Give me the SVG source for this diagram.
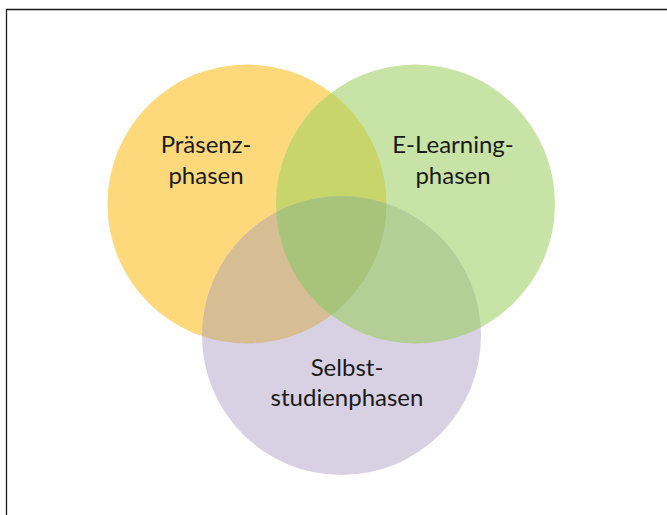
<svg xmlns="http://www.w3.org/2000/svg" width="667" height="515" viewBox="0 0 667 515">
<style>
.lbl{font-family:Lato,"Liberation Sans",sans-serif;font-size:24px;fill:#1a1a1a;text-anchor:middle}
.frame{stroke:#1a1a1a;stroke-width:1.3;fill:none}
</style>
<defs>
<circle id="cY" cx="247" cy="204" r="139.5"/>
<circle id="cG" cx="415.5" cy="204" r="139.5"/>
<circle id="cP" cx="341.5" cy="335.5" r="139.5"/>
<clipPath id="clipY"><use href="#cY"/></clipPath>
<clipPath id="clipG"><use href="#cG"/></clipPath>
<clipPath id="clipP"><use href="#cP"/></clipPath>
</defs>
<rect width="667" height="515" fill="#ffffff"/>
<path class="frame" d="M6.5 515 V9.5 H667"/>
<g id="praesenz">
<use href="#cY" fill="#FDD97C"/>
</g>
<g id="elearning">
<use href="#cG" fill="#C7E3A5"/>
</g>
<g id="overlapYG"><use href="#cG" fill="#C8D56A" clip-path="url(#clipY)"/></g>
<g id="selbststudium">
<use href="#cP" fill="#D8D0E3"/>
</g>
<g id="overlaps">
<use href="#cY" fill="#D7BD93" clip-path="url(#clipP)"/>
<use href="#cG" fill="#B3CF95" clip-path="url(#clipP)"/>
<g clip-path="url(#clipG)"><use href="#cY" fill="#A8C47A" clip-path="url(#clipP)"/></g>
</g>
<g id="labels">
<text class="lbl" x="206" y="153">Präsenz-</text>
<text class="lbl" x="206" y="184">phasen</text>
<text class="lbl" x="453" y="153">E-Learning-</text>
<text class="lbl" x="453" y="184">phasen</text>
<text class="lbl" x="347" y="376">Selbst-</text>
<text class="lbl" x="347" y="406">studienphasen</text>
</g>
<g id="connectors"/>
</svg>
